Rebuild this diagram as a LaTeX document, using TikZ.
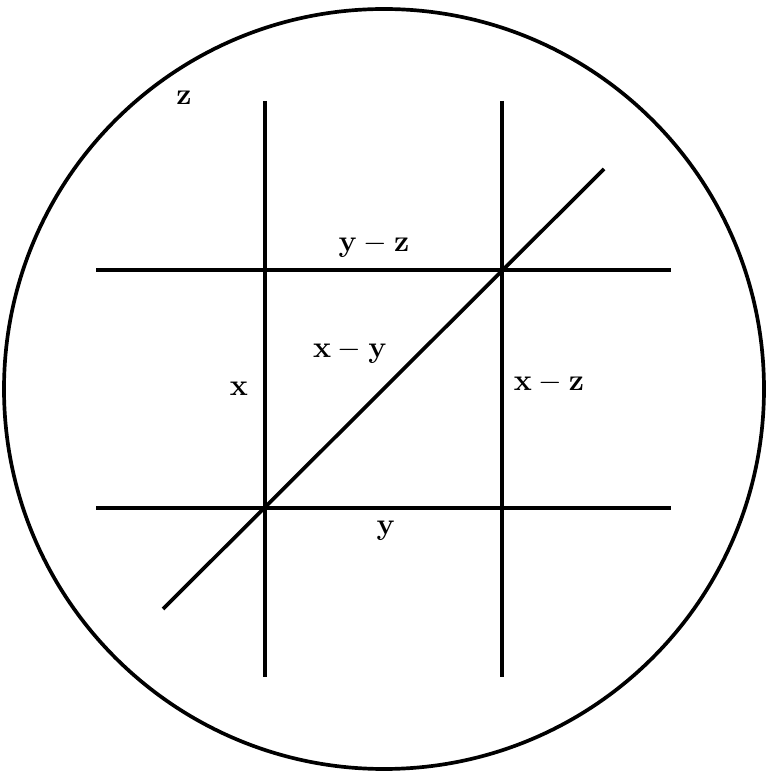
\documentclass[tikz,border=0pt]{standalone}
\usepackage{amsmath}
\usepackage{amssymb}
\usetikzlibrary{calc}

\begin{document}
\begin{tikzpicture}[line/.style = {black, line width=2.1pt},
                    lab/.style = {inner sep=1pt, font=\fontsize{16}{19}\selectfont}]
            \useasboundingbox (0,0) rectangle (15.36,15.52);
            \coordinate (o) at (7.68,7.74);
            \draw[line] (o) circle (7.6);
            \coordinate (xt) at (5.30,13.5);
            \coordinate (xb) at (5.30,1.98);
            \coordinate (zt) at (10.04,13.5);
            \coordinate (zb) at (10.04,1.98);
            \coordinate (yl) at (1.92,10.12);
            \coordinate (yr) at (13.42,10.12);
            \coordinate (wl) at (1.92,5.36);
            \coordinate (wr) at (13.42,5.36);
            \coordinate (dl) at (3.26,3.34);
            \coordinate (dr) at (12.08,12.14);
            \draw[line] (xt) -- (xb);
            \draw[line] (zt) -- (zb);
            \draw[line] (yl) -- (yr);
            \draw[line] (wl) -- (wr);
            \draw[line] (dl) -- (dr);
            \node[lab] (z) at (3.68,13.56) {$\mathbf{z}$};
            \node[lab] (yz) at (7.48,10.60) {$\mathbf{y-z}$};
            \node[lab] (xy) at (7.00,8.48) {$\mathbf{x-y}$};
            \node[lab] (x) at (4.78,7.74) {$\mathbf{x}$};
            \node[lab] (xz) at (10.98,7.86) {$\mathbf{x-z}$};
            \node[lab] (y) at (7.72,4.90) {$\mathbf{y}$};

        \end{tikzpicture}
\end{document}
